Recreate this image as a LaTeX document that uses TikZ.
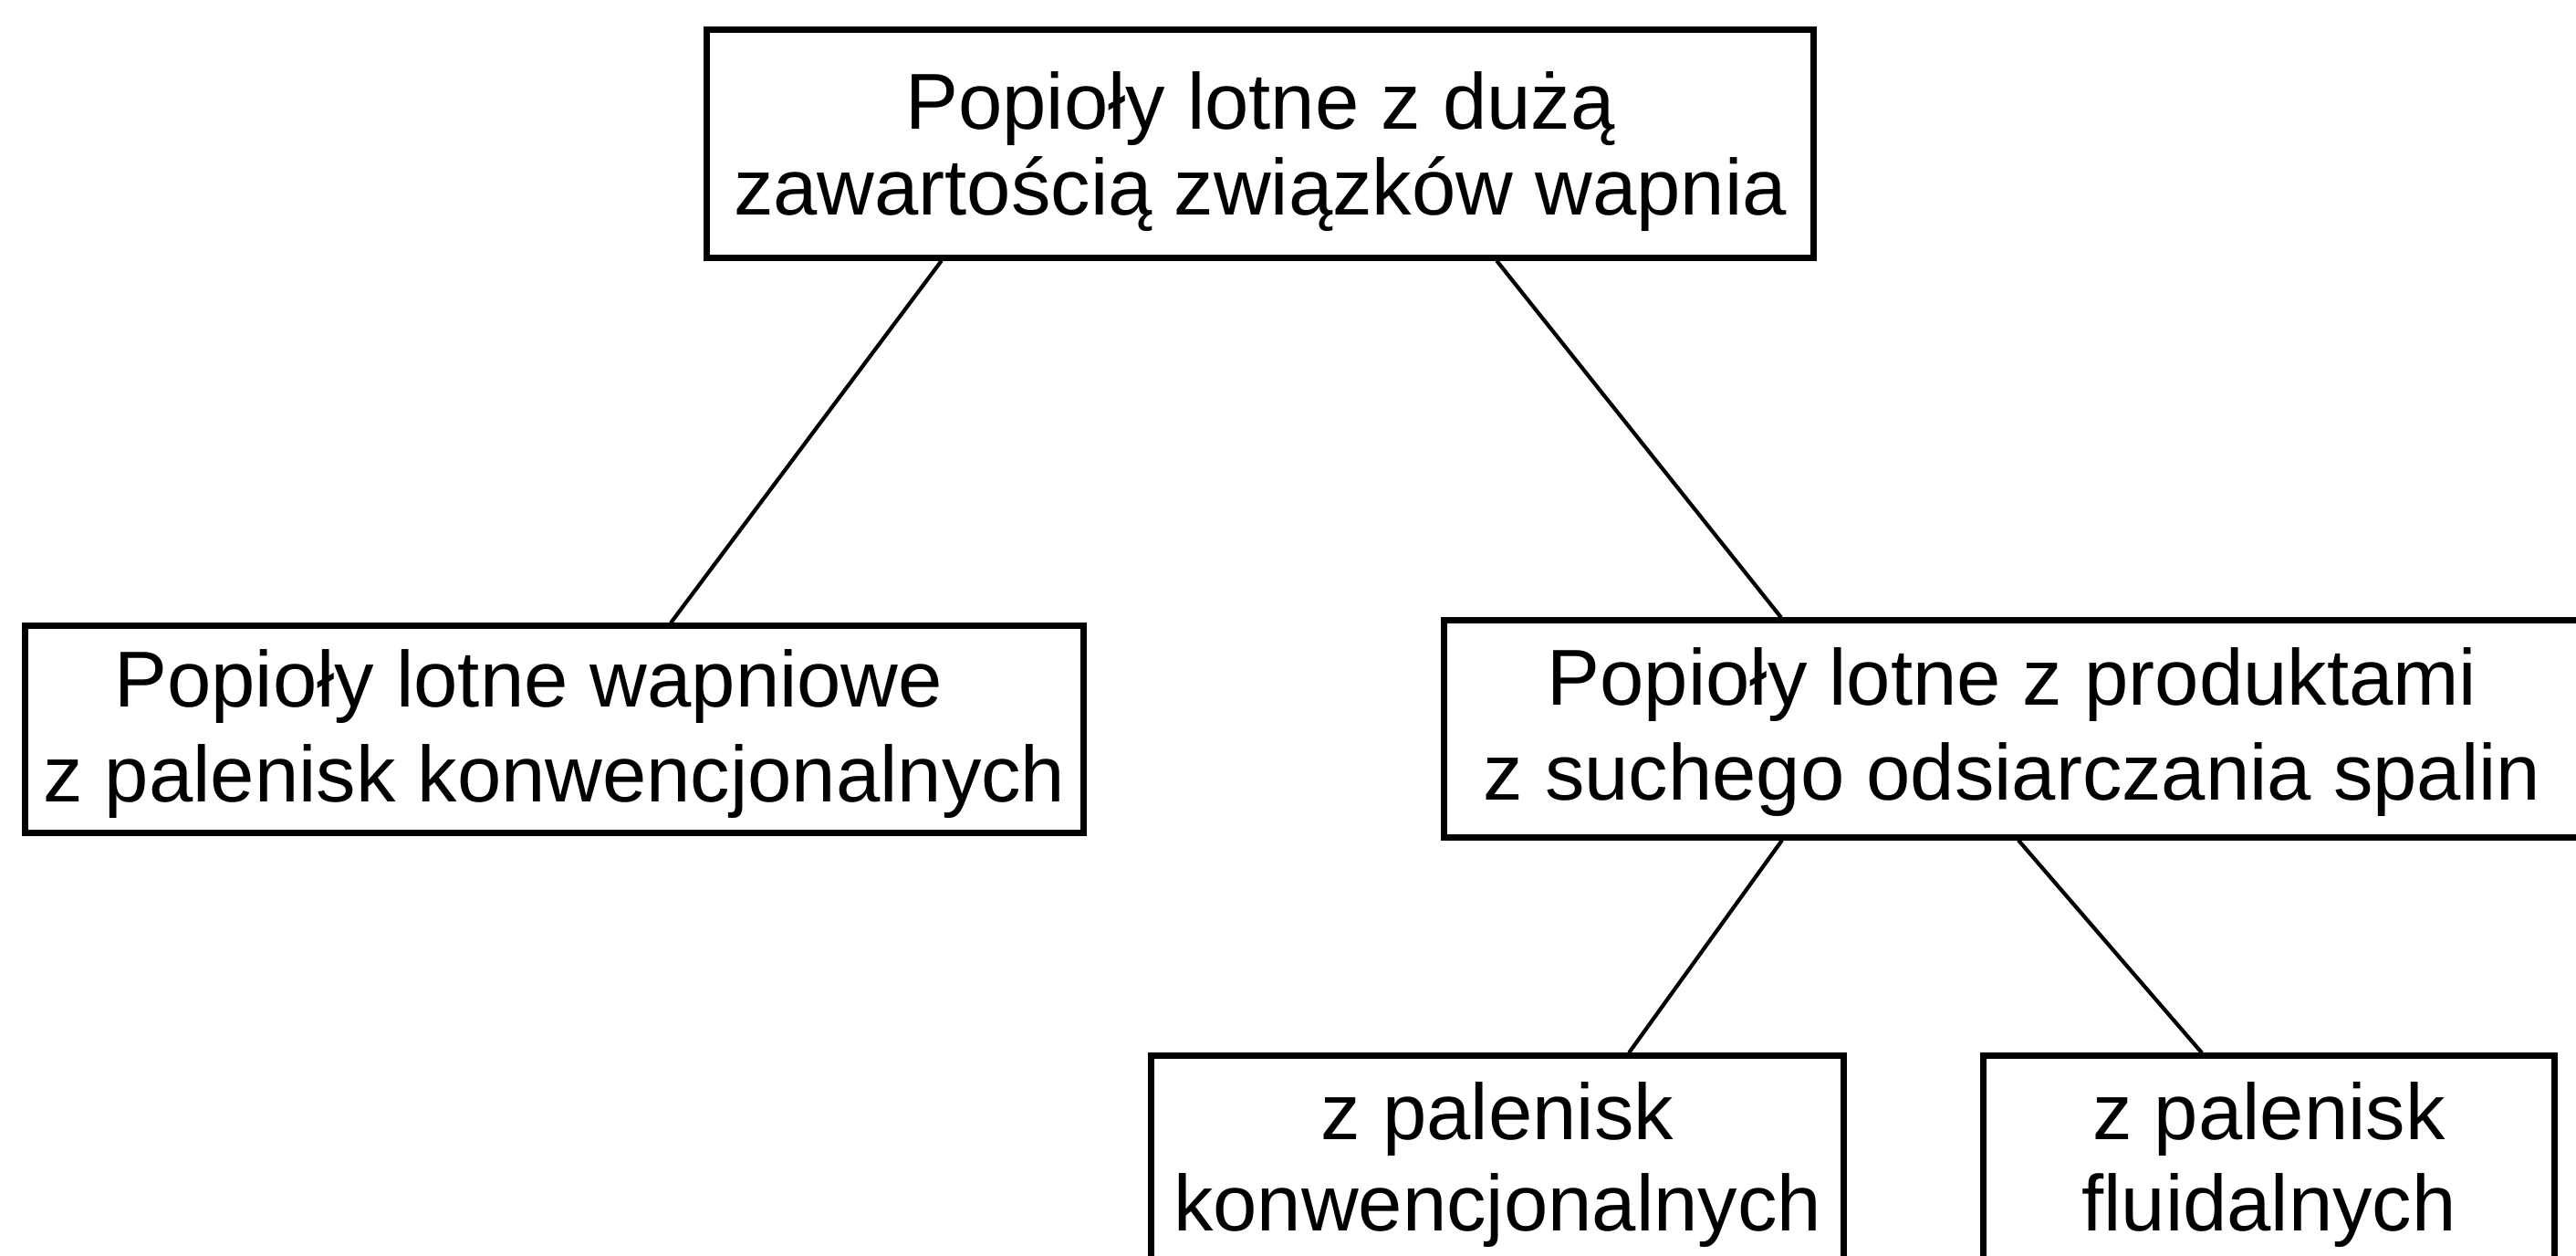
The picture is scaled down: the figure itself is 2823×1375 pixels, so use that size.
\documentclass[tikz,border=0pt]{standalone}
\usepackage{fontspec}
\setmainfont{Liberation Sans}
\begin{document}
\begin{tikzpicture}[x=0.01cm,y=-0.01cm,
  box/.style={draw=black, line width=2pt, rectangle, inner sep=0pt, align=center},
  link/.style={draw=black, line width=1.2pt},
  fA/.style={font=\fontsize{24.7pt}{26.7pt}\selectfont},
  fB/.style={font=\fontsize{24.7pt}{29.6pt}\selectfont},
  fC/.style={font=\fontsize{24.7pt}{28.5pt}\selectfont}]
\useasboundingbox (0,0) rectangle (2823,1375);
\fill[white] (0,0) rectangle (2823,1375);

\node[box, fA, minimum width=12.12cm, minimum height=2.49cm] (top) at (1381,157.5)
  {\rule{0pt}{23pt}Popioły lotne z dużą\\zawartością związków wapnia};
\node[box, fB, minimum width=11.59cm, minimum height=2.26cm] (left) at (607.5,799)
  {\rule{0pt}{21pt}Popioły lotne wapniowe\hspace*{16pt}\\z palenisk konwencjonalnych};
\node[box, fB, minimum width=12.44cm, minimum height=2.37cm] (right) at (2205,798.5)
  {\rule{0pt}{20pt}Popioły lotne z produktami\\z suchego odsiarczania spalin};
\node[box, fC, minimum width=7.58cm, minimum height=2.38cm] (bl) at (1641,1276)
  {z palenisk\\konwencjonalnych};
\node[box, fC, minimum width=6.25cm, minimum height=2.38cm] (br) at (2486.5,1276)
  {z palenisk\\fluidalnych};

\draw[link] ([xshift=-3.49cm]top.south) -- ([xshift=1.275cm]left.north);
\draw[link] ([xshift=2.59cm]top.south) -- ([xshift=-2.53cm]right.north);
\draw[link] ([xshift=-2.52cm]right.south) -- ([xshift=1.44cm]bl.north);
\draw[link] ([xshift=0.07cm]right.south) -- ([xshift=-0.735cm]br.north);
\end{tikzpicture}
\end{document}
